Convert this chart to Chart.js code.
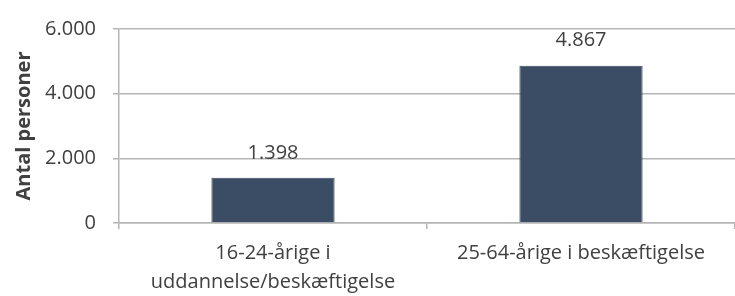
<!DOCTYPE html>
<html>
<head>
<meta charset="utf-8">
<script src="https://cdn.jsdelivr.net/npm/chart.js@4"></script>
<style>
  html, body { margin: 0; padding: 0; background: #fff; }
  .wrap { width: 735px; height: 296px; position: relative; }
</style>
</head>
<body>
<div class="wrap"><canvas id="myChart"></canvas></div>
<script>
const categories = [
    ['16-24-årige i', 'uddannelse/beskæftigelse'],
    '25-64-årige i beskæftigelse',
];
const values = [1398, 4867];
const yTicks = [0, 2000, 4000, 6000];

const fmt = (v) => String(v).replace(/\B(?=(\d{3})+(?!\d))/g, '.');

// value labels above the bars
const barLabels = {
    id: 'barLabels',
    afterDatasetsDraw(chart) {
        const ctx = chart.ctx;
        const meta = chart.getDatasetMeta(0);
        ctx.save();
        ctx.font = '20px "Open Sans"';
        ctx.fillStyle = '#404040';
        ctx.textAlign = 'center';
        ctx.textBaseline = 'middle';
        meta.data.forEach((bar, i) => {
            ctx.fillText(fmt(values[i]), bar.x, bar.y - 25);
        });
        ctx.restore();
    }
};

const config = {
    type: 'bar',
    data: {
        labels: categories,
        datasets: [{
            data: values,
            backgroundColor: '#3a4d64',
            borderColor: '#34475e',
            borderWidth: 1,
            categoryPercentage: 1,
            barPercentage: 0.4,
        }]
    },
    options: {
        responsive: false,
        animation: false,
        layout: { padding: { top: 25, right: 0, left: 0, bottom: 0 } },
        plugins: { legend: { display: false }, tooltip: { enabled: false } },
        scales: {
            x: {
                offset: true,
                afterFit: (axis) => { axis.height = 73; },
                grid: {
                    offset: true,
                    drawOnChartArea: false,
                    color: '#b5b5b5',
                    lineWidth: 1.5,
                    tickLength: 6,
                },
                border: { color: '#b5b5b5', width: 1.5 },
                ticks: {
                    color: '#404040',
                    font: { family: 'Open Sans', size: 20, lineHeight: 1.45 },
                    maxRotation: 0,
                    autoSkip: false,
                    padding: 10,
                },
            },
            y: {
                min: 0,
                max: 6000,
                afterFit: (axis) => { axis.width = 119; },
                afterBuildTicks: (axis) => { axis.ticks = yTicks.map(v => ({ value: v })); },
                grid: { color: '#b5b5b5', lineWidth: 1.5, tickLength: 6 },
                border: { color: '#b5b5b5', width: 1.5 },
                ticks: {
                    color: '#404040',
                    font: { family: 'Open Sans', size: 20 },
                    padding: 17,
                    callback: (v) => fmt(v),
                },
                title: {
                    display: true,
                    text: 'Antal personer',
                    color: '#404040',
                    font: { family: 'Open Sans', size: 20, weight: 'bold' },
                    padding: { top: 12, bottom: 0 },
                },
            }
        }
    },
    plugins: [barLabels],
};

const canvas = document.getElementById('myChart');
canvas.width = 735;
canvas.height = 296;
const myChart = new Chart(canvas, config);
</script>
</body>
</html>
